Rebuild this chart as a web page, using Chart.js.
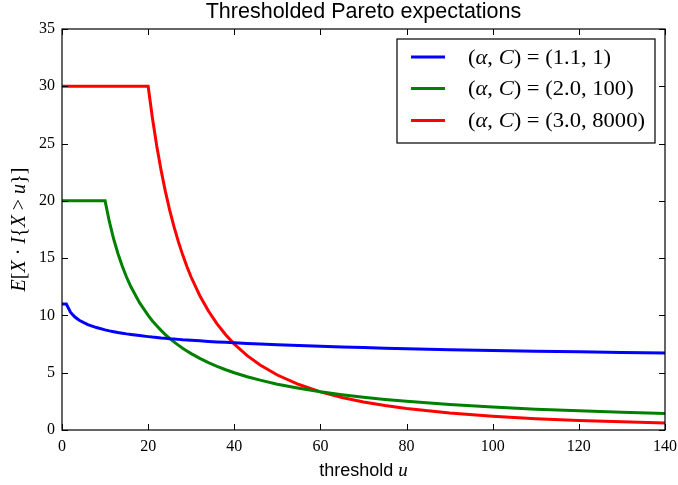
<!DOCTYPE html>
<html><head><meta charset="utf-8">
<script src="https://cdn.jsdelivr.net/npm/chart.js@4/dist/chart.umd.min.js"></script>
<style>html,body{margin:0;padding:0;background:#fff}</style>
</head><body>
<canvas id="c" width="678" height="485" style="display:block"></canvas>
<script>
// threshold u (x values)
const thresholds = [0,1,2,3,4,6,8,10,11,12,13,14,15,16,18,20,21,22,23,24,25,26,27,28,29,30,32,34,36,38,40,43,46,50,55,60,65,70,75,80,90,100,110,120,130,140];
// (alpha, C) = (1.1, 1)
const seriesA = [11,11,10.26,9.86,9.58,9.20,8.94,8.74,8.65,8.58,8.51,8.45,8.39,8.34,8.24,8.15,8.11,8.08,8.04,8.01,7.97,7.94,7.91,7.88,7.86,7.83,7.78,7.73,7.69,7.65,7.61,7.55,7.50,7.44,7.37,7.30,7.25,7.19,7.14,7.10,7.01,6.94,6.87,6.82,6.76,6.71];
// (alpha, C) = (2.0, 100)
const seriesB = [20,20,20,20,20,20,20,20,18.18,16.67,15.38,14.29,13.33,12.5,11.11,10,9.52,9.09,8.70,8.33,8,7.69,7.41,7.14,6.90,6.67,6.25,5.88,5.56,5.26,5,4.65,4.35,4,3.64,3.33,3.08,2.86,2.67,2.5,2.22,2,1.82,1.67,1.54,1.43];
// (alpha, C) = (3.0, 8000)
const seriesC = [30,30,30,30,30,30,30,30,30,30,30,30,30,30,30,30,27.21,24.79,22.68,20.83,19.2,17.75,16.46,15.31,14.27,13.33,11.72,10.38,9.26,8.31,7.5,6.49,5.67,4.8,3.97,3.33,2.84,2.45,2.13,1.88,1.48,1.2,0.99,0.83,0.71,0.61];
const xTickValues = [0,20,40,60,80,100,120,140];
const yTickValues = [0,5,10,15,20,25,30,35];
const legendLabels = [["1.1","1"],["2.0","100"],["3.0","8000"]];
const colors = ["#0000ff","#008000","#ff0000"];

const SERIF = "'Liberation Serif', 'DejaVu Serif', serif";
const SANS = "'Liberation Sans', Arial, sans-serif";

function toXY(vals){ return thresholds.map((u,i)=>({x:u,y:vals[i]})); }

function drawMixed(ctx, parts, x, y, align, stretch){
  stretch = stretch || 1;
  let total = 0;
  for (const p of parts){ ctx.font = p[1]; total += ctx.measureText(p[0]).width; }
  let start = align === 'center' ? x - total*stretch/2 : (align === 'right' ? x - total*stretch : x);
  ctx.save();
  ctx.translate(start, y);
  ctx.scale(stretch, 1);
  ctx.textAlign = 'left';
  let cx = 0;
  for (const p of parts){ ctx.font = p[1]; ctx.fillText(p[0], cx, 0); cx += ctx.measureText(p[0]).width; }
  ctx.restore();
  return total*stretch;
}

const decor = {
  id: 'decor',
  afterDatasetsDraw(chart){
    const {ctx, chartArea:a, scales:{x, y}} = chart;
    ctx.save();
    ctx.strokeStyle = '#000';
    ctx.lineWidth = 1.2;
    ctx.strokeRect(a.left, a.top, a.right - a.left, a.bottom - a.top);
    const tl = 6;
    ctx.lineWidth = 1;
    ctx.beginPath();
    for (const v of xTickValues){
      const px = Math.round(x.getPixelForValue(v)) + 0.5;
      ctx.moveTo(px, a.bottom); ctx.lineTo(px, a.bottom - tl);
      ctx.moveTo(px, a.top); ctx.lineTo(px, a.top + tl);
    }
    for (const v of yTickValues){
      const py = Math.round(y.getPixelForValue(v)) + 0.5;
      ctx.moveTo(a.left, py); ctx.lineTo(a.left + tl, py);
      ctx.moveTo(a.right, py); ctx.lineTo(a.right - tl, py);
    }
    ctx.stroke();

    // legend
    const lw = 258, lh = 104;
    const lx = a.right - 10 - lw, ly = a.top + 10;
    ctx.fillStyle = '#fff';
    ctx.fillRect(lx, ly, lw, lh);
    ctx.lineWidth = 1.2;
    ctx.strokeStyle = '#000';
    ctx.strokeRect(lx, ly, lw, lh);
    const rows = [ly + 18, ly + 49.5, ly + 81.5];
    ctx.fillStyle = '#000';
    ctx.textBaseline = 'middle';
    legendLabels.forEach((lab, i) => {
      ctx.strokeStyle = colors[i];
      ctx.lineWidth = 3;
      ctx.beginPath();
      ctx.moveTo(lx + 14, rows[i]); ctx.lineTo(lx + 48, rows[i]);
      ctx.stroke();
      const up = "21px " + SERIF, it = "italic 21px " + SERIF;
      drawMixed(ctx, [["(", up], ["\u03b1", it], [", ", up], ["C", it], [") = (" + lab[0] + ", " + lab[1] + ")", up]], lx + 71, rows[i] + 1, 'left', 1.075);
    });

    // title
    ctx.textBaseline = 'alphabetic';
    ctx.fillStyle = '#000';
    ctx.font = "21.5px " + SANS;
    ctx.textAlign = 'center';
    ctx.fillText("Thresholded Pareto expectations", (a.left + a.right)/2, 18);

    // x label
    drawMixed(ctx, [["threshold ", "18px " + SANS], ["u", "italic 19px " + SERIF]], (a.left + a.right)/2, 476, 'center');

    // y label
    ctx.save();
    ctx.translate(25, (a.top + a.bottom)/2);
    ctx.rotate(-Math.PI/2);
    const up = "20px " + SERIF, it = "italic 20px " + SERIF;
    drawMixed(ctx, [["E", it], ["[", up], ["X", it], [" \u00b7 ", up], ["I", it], ["{", up], ["X", it], [" > ", up], ["u", it], ["}]", up]], 0, 0, 'center');
    ctx.restore();
    ctx.restore();
  }
};

new Chart(document.getElementById('c'), {
  type: 'line',
  data: {
    datasets: [
      {label: '(α, C) = (1.1, 1)', data: toXY(seriesA), borderColor: colors[0], borderWidth: 3, pointRadius: 0, fill: false, tension: 0},
      {label: '(α, C) = (2.0, 100)', data: toXY(seriesB), borderColor: colors[1], borderWidth: 3, pointRadius: 0, fill: false, tension: 0},
      {label: '(α, C) = (3.0, 8000)', data: toXY(seriesC), borderColor: colors[2], borderWidth: 3, pointRadius: 0, fill: false, tension: 0}
    ]
  },
  options: {
    responsive: false,
    animation: false,
    devicePixelRatio: 1,
    layout: {padding: {top: 29, right: 13, left: 0, bottom: 0}},
    plugins: {legend: {display: false}, title: {display: false}, tooltip: {enabled: false}},
    scales: {
      x: {
        type: 'linear', min: 0, max: 140,
        afterFit: s => { s.height = 55; s.paddingLeft = 0; s.paddingRight = 0; },
        afterBuildTicks: s => { s.ticks = xTickValues.map(v => ({value: v})); },
        ticks: {color: '#000', font: {family: SERIF, size: 16}, padding: 7, maxRotation: 0},
        grid: {display: false, drawTicks: false},
        border: {display: false}
      },
      y: {
        type: 'linear', min: 0, max: 35,
        afterFit: s => { s.width = 62; s.paddingTop = 0; s.paddingBottom = 0; },
        afterBuildTicks: s => { s.ticks = yTickValues.map(v => ({value: v})); },
        ticks: {color: '#000', font: {family: SERIF, size: 16}, padding: 7},
        grid: {display: false, drawTicks: false},
        border: {display: false}
      }
    }
  },
  plugins: [decor]
});
</script>
</body></html>
